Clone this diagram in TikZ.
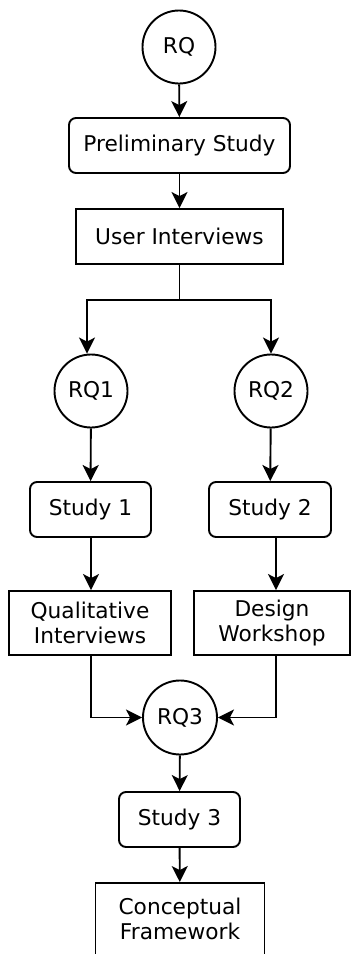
\documentclass[tikz,border=0pt]{standalone}
\usepackage{fontspec}
\newfontfamily\dvs{DejaVu Sans}
\usepackage{tikz}
\usetikzlibrary{arrows.meta}
\tikzset{
  fnode/.style = {align=center, inner sep=0pt, text centered, font=\dvs\fontsize{21.7pt}{25pt}\selectfont},
  qnode/.style = {fnode, circle, draw=black, line width=1.9pt, minimum size=73pt},
  snode/.style = {fnode, rectangle, rounded corners=7pt, draw=black, line width=1.9pt, minimum height=55pt},
  bnode/.style = {fnode, rectangle, draw=black, line width=1.9pt},
  flow/.style = {-{Stealth[length=16pt, width=16pt, inset=4pt]}, line width=1.9pt},
}

\begin{document}
\begin{tikzpicture}[x=1pt, y=-1pt]
\useasboundingbox (0,0) rectangle (351,954);
\clip (0,0) rectangle (351,954);
% top
\node [qnode] (rq) at (179,47) {RQ};
\node [snode, minimum width=221pt] (pre) at (179.5,145.5) {Preliminary Study};
\node [bnode, minimum width=207pt, minimum height=55pt] (ui) at (179.5,236.5) {User Interviews};
% two branches
\node [qnode] (rq1) at (91,391) {RQ1};
\node [qnode] (rq2) at (271,391) {RQ2};
\node [snode, minimum width=121pt] (s1) at (90.5,509.5) {Study 1};
\node [snode, minimum width=122pt] (s2) at (270,509.5) {Study 2};
\node [bnode, minimum width=162pt, minimum height=64pt] (qi) at (90,623) {Qualitative\\Interviews};
\node [bnode, minimum width=156pt, minimum height=64pt] (dw) at (272,623) {Design\\Workshop};
% merge
\node [qnode, minimum size=74pt] (rq3) at (180,717.5) {RQ3};
\node [snode, minimum width=121pt] (s3) at (179.5,819.5) {Study 3};
\node [bnode, minimum width=169pt, minimum height=72pt] (cf) at (180,919) {Conceptual\\Framework};
\coordinate (split) at (179.5,300);
\coordinate (qx) at (91,0);
\coordinate (dx) at (276,0);

\draw [flow] (rq) -- (pre);
\draw [flow] (pre) -- (ui);
\draw [line width=1.9pt] (ui) -- (split);
\draw [flow] (split) -| ([xshift=-4pt]rq1.north);
\draw [flow] (split) -| (rq2.north);
\draw [flow] (rq1) -- (s1);
\draw [flow] (rq2) -- (s2);
\draw [flow] (s1.south -| qx) -- (qi.north -| qx);
\draw [flow] (s2.south -| dx) -- (dw.north -| dx);
\draw [flow] (qi.south -| qx) |- (rq3.west);
\draw [flow] (dw.south -| dx) |- (rq3.east);
\draw [flow] (rq3) -- (s3);
\draw [flow] (s3) -- (cf);
\end{tikzpicture}
\end{document}
